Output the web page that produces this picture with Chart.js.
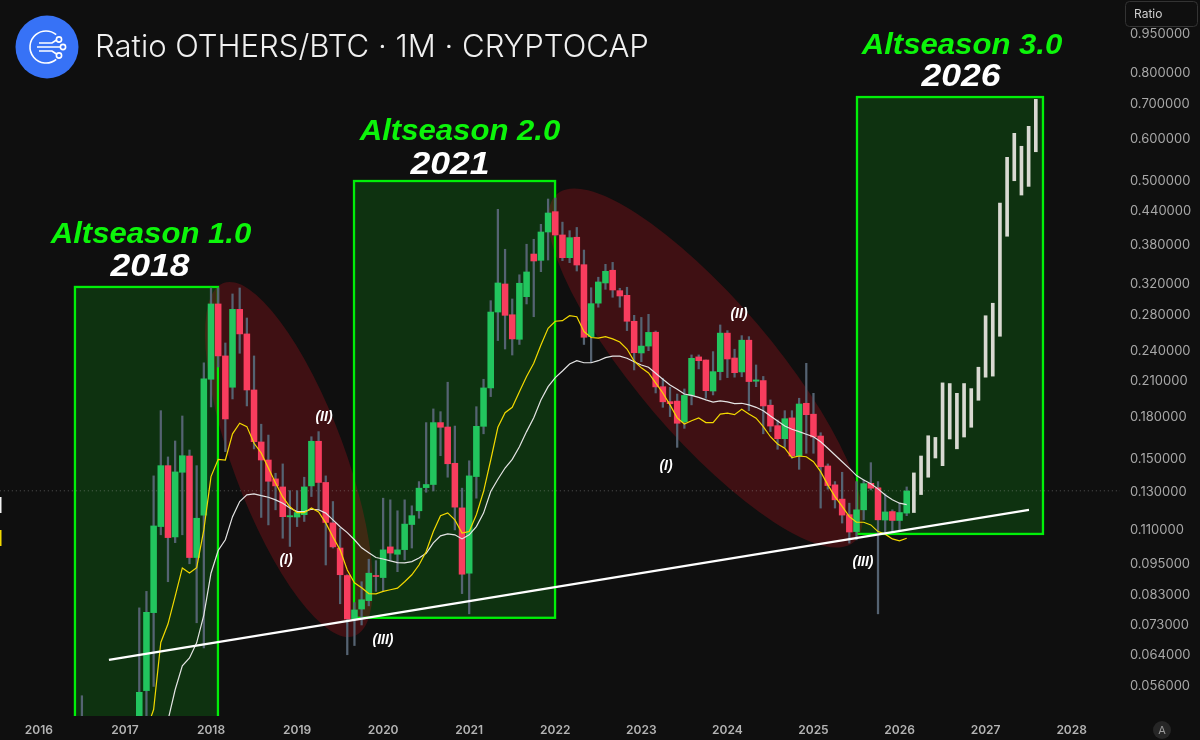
<!DOCTYPE html>
<html>
<head>
<meta charset="utf-8">
<title>Ratio OTHERS/BTC</title>
<script src="https://cdn.jsdelivr.net/npm/chart.js@4"></script>
<style>
  html, body { margin: 0; background: #0f0f0f; }
  canvas { display: block; }
</style>
</head>
<body>
<canvas id="chart" width="1200" height="740"></canvas>
<script>
// months counted from Jan 2016, first candle that matters is Jul 2016
const firstCandle = 6;
const opens = [
  .0400,.0420,.0410,.0430,.0440,.0430,.0440,.0450,
  .0455,.0546,.0766,.1113,.1450,.1064,.1409,.1512,.0973,.1170,
  .2110,.2926,.2335,.2038,.2858,.2569,.2014,.1607,.1486,.1369,.1322,.1161,
  .1160,.1172,.1328,.1612,.1348,.1131,.1014,.0900,.0745,.0778,.0807,.0900,
  .0892,.1019,.0987,.1007,.1123,.1192,.1318,.1336,.1748,.1715,.1465,.1207,
  .0909,.1383,.1720,.2032,.2825,.3191,.2792,.2510,.3020,.3634,.3536,.3999,
  .4368,.3948,.3577,.3909,.3470,.2539,.2936,.3205,.3387,.3100,.3038,.2714,
  .2365,.2437,.2588,.2043,.1915,.1919,.1753,.1967,.2325,.2294,.2005,.2181,
  .2578,.2314,.2178,.2500,.2092,.2098,.1885,.1725,.1630,.1784,.1512,.1901,
  .1813,.1649,.1448,.1334,.1254,.1172,.1089,.1197,.1343,.1317,.1145,.1188,
  .1143,.1180
];
const highs = [
  .0534,.0470,.0460,.0470,.0480,.0470,.0480,.0480,
  .0782,.0840,.1387,.1841,.1506,.1614,.1799,.1552,.1450,.2267,
  .3136,.3136,.2470,.3056,.3136,.2753,.2335,.1736,.1656,.1403,.1461,.1301,
  .1301,.1379,.1644,.1681,.1387,.1241,.1105,.0903,.0800,.0876,.0966,.0960,
  .1259,.1250,.1192,.1250,.1218,.1353,.1748,.1855,.1833,.2083,.1722,.1315,
  .1481,.1873,.2110,.2968,.4413,.3710,.2990,.3321,.3792,.3875,.4134,.4615,
  .4635,.4174,.4022,.4079,.3698,.3140,.3286,.3475,.3505,.3132,.3146,.2785,
  .2760,.2797,.2602,.2119,.2038,.1979,.2023,.2345,.2345,.2294,.2379,.2671,
  .2606,.2404,.2550,.2539,.2245,.2136,.1929,.1768,.1841,.1841,.1943,.2261,
  .1985,.1673,.1461,.1353,.1409,.1232,.1353,.1363,.1469,.1353,.1283,.1197,
  .1232,.1322
];
const lows = [
  .0380,.0400,.0395,.0410,.0420,.0415,.0425,.0430,
  .0430,.0470,.0556,.1074,.0876,.1038,.1074,.0947,.0733,.0657,
  .1871,.2226,.1541,.1937,.2362,.1879,.1559,.1158,.1121,.1197,.1058,.1021,
  .1113,.1138,.1268,.1197,.0942,.1014,.0796,.0638,.0664,.0726,.0789,.0840,
  .0840,.0960,.0915,.0963,.1014,.1154,.1292,.1299,.1514,.1379,.1097,.0832,
  .0762,.1259,.1665,.1957,.2496,.2406,.2344,.2454,.2926,.2768,.3366,.3541,
  .3931,.3531,.3500,.3376,.2454,.2271,.2885,.3118,.3012,.2885,.2606,.2197,
  .2277,.2389,.1988,.1868,.1794,.1570,.1705,.1888,.2207,.1943,.1971,.2104,
  .2125,.2129,.2133,.1841,.2043,.1665,.1681,.1557,.1570,.1497,.1427,.1530,
  .1530,.1206,.1309,.1206,.1130,.1036,.1051,.1146,.1305,.0762,.1082,.1082,
  .1089,.1167
];
const closes = [
  .0420,.0410,.0430,.0440,.0430,.0440,.0450,.0455,
  .0542,.0767,.1116,.1450,.1061,.1411,.1514,.0973,.1154,.2113,
  .2926,.2335,.1776,.2858,.2569,.2014,.1609,.1486,.1355,.1328,.1162,.1167,
  .1183,.1322,.1612,.1348,.1133,.1019,.0903,.0745,.0775,.0810,.0909,.0896,
  .1006,.0992,.1006,.1125,.1167,.1315,.1336,.1748,.1713,.1462,.1211,.0905,
  .1387,.1720,.2032,.2825,.3205,.2785,.2514,.3201,.3362,.3526,.3999,.4343,
  .3948,.3577,.3902,.3465,.2532,.2930,.3219,.3372,.3109,.3029,.2714,.2368,
  .2437,.2586,.2041,.1913,.1898,.1743,.1967,.2311,.2287,.2008,.2181,.2578,
  .2304,.2171,.2500,.2089,.2104,.1879,.1722,.1630,.1778,.1512,.1895,.1809,
  .1642,.1443,.1330,.1250,.1170,.1087,.1197,.1341,.1315,.1146,.1186,.1143,
  .1183,.1299
];

// yellow average, starts Apr 2017
const yellowStart = 15;
const yellowLine = [
  .0460,.0503,.0673,.0729,.0822,.0930,.0910,.0931,.1097,
  .1383,.1490,.1486,.1665,.1743,.1718,.1598,.1532,.1435,.1345,.1266,.1213,
  .1182,.1182,.1207,.1186,.1131,.1064,.1006,.0922,.0872,.0853,.0832,.0831,
  .0840,.0846,.0852,.0876,.0903,.0942,.0999,.1089,.1167,.1181,.1146,.1082,
  .1089,.1172,.1296,.1486,.1713,.1825,.1868,.1999,.2136,.2261,.2449,.2632,
  .2714,.2721,.2780,.2768,.2596,.2529,.2522,.2539,.2514,.2481,.2406,.2284,
  .2217,.2169,.2077,.1988,.1888,.1784,.1737,.1762,.1784,.1748,.1748,.1814,
  .1822,.1809,.1852,.1814,.1782,.1718,.1644,.1593,.1564,.1501,.1512,.1507,
  .1475,.1413,.1334,.1268,.1215,.1162,.1134,.1134,.1121,.1089,.1077,.1055,
  .1046,.1058
];

// white average, starts Jul 2017
const whiteStart = 18;
const whiteLine = [
  .0480,.0548,.0608,.0629,.0672,.0758,
  .0909,.1003,.1051,.1162,.1241,.1277,.1283,.1273,.1264,.1250,.1232,.1206,
  .1188,.1188,.1200,.1197,.1180,.1146,.1112,.1084,.1051,.1015,.0993,.0973,
  .0967,.0959,.0952,.0951,.0956,.0971,.0991,.1037,.1069,.1078,.1074,.1055,
  .1074,.1113,.1180,.1296,.1367,.1435,.1490,.1574,.1681,.1786,.1929,.2043,
  .2125,.2187,.2255,.2287,.2267,.2267,.2287,.2317,.2332,.2332,.2311,.2277,
  .2245,.2223,.2165,.2110,.2059,.2021,.1979,.1967,.1950,.1929,.1911,.1921,
  .1913,.1898,.1901,.1888,.1868,.1841,.1799,.1761,.1722,.1698,.1681,.1662,
  .1644,.1609,.1564,.1519,.1475,.1433,.1389,.1363,.1340,.1311,.1277,.1250,
  .1232,.1224
];

// projected white bars after the last real candle
const projectedStart = 122;
const projectedTop = [.1405,.1512,.1651,.1639,.2077,.2071,.1985,.2071,.2026,.2223,.2780,.2935,.4534,.5530,.6137,.5802,.6327,.7113];
const projectedBottom = [.1183,.1279,.1379,.1499,.1450,.1628,.1560,.1642,.1713,.1926,.2129,.2139,.2543,.3926,.4996,.4695,.4875,.5666];

const trendMonths = [9.77, 138.05];
const trendValues = [.0624, .1197];
const lastPrice = .13;

const priceTicks = [.056,.064,.073,.083,.095,.11,.13,.15,.18,.21,.24,.28,.32,.38,.44,.5,.6,.7,.8,.95];
const yearTicks = [2016,2017,2018,2019,2020,2021,2022,2023,2024,2025,2026,2027,2028];

// [month from, month to, low value, high value]
const greenBoxes = [
  [5.03, 24.97, .0470, .315],
  [43.94, 71.97, .0749, .499],
  [114.07, 140.0, .1078, .7185]
];
// tips of the red ellipses in data values, halfWidth in px
const redEllipses = [
  { a: [25.74, .3205], b: [44.0, .0692], halfWidth: 56 },
  { a: [72.24, .4716], b: [113.65, .1041], halfWidth: 68 }
];

const FONT = 'Inter, "Noto Sans", sans-serif';
const NOTE_FONT = '"Liberation Sans", Arial, sans-serif';

const seasonLabels = [['Altseason 1.0', 151, 235], ['Altseason 2.0', 460, 132], ['Altseason 3.0', 962, 46]];
const yearLabels = [['2018', 150, 268], ['2021', 450, 166], ['2026', 961, 78]];
const waveLabels = [
  ['(I)', 286, 560], ['(II)', 324, 417], ['(III)', 383, 640],
  ['(I)', 666, 466], ['(II)', 739, 314], ['(III)', 863, 562]
];

// centred text, stretched sideways like the original overlay font
function wideText(ctx, text, x, y, stretch) {
  ctx.save();
  ctx.translate(x, y);
  ctx.scale(stretch, 1);
  ctx.fillText(text, 0, 0);
  ctx.restore();
}

const drawings = {
  id: 'drawings',
  // green boxes and red ellipses sit under the candles
  beforeDatasetsDraw(chart) {
    const { ctx, chartArea: area, scales: { x, y } } = chart;
    ctx.save();
    ctx.beginPath();
    ctx.rect(area.left, area.top, area.width, area.height);
    ctx.clip();
    greenBoxes.forEach(b => {
      ctx.fillStyle = '#0e3210';
      ctx.fillRect(x.getPixelForValue(b[0]), y.getPixelForValue(b[3]),
        x.getPixelForValue(b[1]) - x.getPixelForValue(b[0]), y.getPixelForValue(b[2]) - y.getPixelForValue(b[3]));
    });
    redEllipses.forEach(e => {
      const ax = x.getPixelForValue(e.a[0]), ay = y.getPixelForValue(e.a[1]);
      const bx = x.getPixelForValue(e.b[0]), by = y.getPixelForValue(e.b[1]);
      ctx.beginPath();
      ctx.ellipse((ax + bx) / 2, (ay + by) / 2, Math.hypot(bx - ax, by - ay) / 2, e.halfWidth, Math.atan2(by - ay, bx - ax), 0, Math.PI * 2);
      ctx.fillStyle = 'rgba(200,20,30,0.26)';
      ctx.fill();
    });
    greenBoxes.forEach(b => {
      ctx.strokeStyle = '#00f008';
      ctx.lineWidth = 2.3;
      ctx.strokeRect(x.getPixelForValue(b[0]), y.getPixelForValue(b[3]),
        x.getPixelForValue(b[1]) - x.getPixelForValue(b[0]), y.getPixelForValue(b[2]) - y.getPixelForValue(b[3]));
    });
    ctx.restore();
  },
  afterDraw(chart) {
    const { ctx } = chart;
    ctx.save();
    ctx.textBaseline = 'middle';

    // logo
    ctx.fillStyle = '#3772f6';
    ctx.beginPath();
    ctx.arc(47, 47, 31.5, 0, Math.PI * 2);
    ctx.fill();
    ctx.strokeStyle = '#ffffff';
    ctx.lineWidth = 1.6;
    ctx.beginPath();
    ctx.arc(46, 47, 16, 0.28 * Math.PI, 1.72 * Math.PI);
    ctx.stroke();
    ctx.beginPath();
    ctx.moveTo(39, 43); ctx.lineTo(52, 43); ctx.lineTo(56.5, 40);
    ctx.moveTo(37, 47); ctx.lineTo(60, 47);
    ctx.moveTo(39, 51); ctx.lineTo(52, 51); ctx.lineTo(56.5, 54);
    ctx.stroke();
    [[59, 39.5], [63, 47], [59, 55.5]].forEach(p => {
      ctx.beginPath();
      ctx.arc(p[0], p[1], 2.6, 0, Math.PI * 2);
      ctx.stroke();
    });

    // title
    ctx.fillStyle = '#f0f0f0';
    ctx.textAlign = 'left';
    ctx.font = '300 31.1px ' + FONT;
    ctx.fillText('Ratio OTHERS/BTC · 1M · CRYPTOCAP', 95, 48);

    ctx.textAlign = 'center';
    ctx.font = 'italic 700 30px ' + NOTE_FONT;
    ctx.fillStyle = '#0cf50a';
    seasonLabels.forEach(l => wideText(ctx, l[0], l[1], l[2], 1.037));
    ctx.fillStyle = '#ffffff';
    ctx.font = 'italic 700 30.5px ' + NOTE_FONT;
    yearLabels.forEach(l => wideText(ctx, l[0], l[1], l[2], 1.165));
    ctx.font = 'italic 700 14px ' + NOTE_FONT;
    waveLabels.forEach(l => ctx.fillText(l[0], l[1], l[2]));

    // Ratio box, top right
    ctx.fillStyle = '#0f0f0f';
    ctx.strokeStyle = '#333333';
    ctx.lineWidth = 1;
    ctx.beginPath();
    ctx.roundRect(1125.5, 1.5, 72, 25, 4);
    ctx.fill();
    ctx.stroke();
    ctx.fillStyle = '#cfcfcf';
    ctx.textAlign = 'left';
    ctx.font = '12px ' + FONT;
    ctx.fillText('Ratio', 1134, 14);

    // auto scale button
    ctx.fillStyle = '#262626';
    ctx.beginPath();
    ctx.arc(1162, 730, 9, 0, Math.PI * 2);
    ctx.fill();
    ctx.fillStyle = '#9a9a9a';
    ctx.textAlign = 'center';
    ctx.font = '11px ' + FONT;
    ctx.fillText('A', 1162, 730.5);

    // cut-off price markers on the left edge
    ctx.fillStyle = '#f2f2f2';
    ctx.fillRect(0, 497, 1.5, 16);
    ctx.fillStyle = '#f2d900';
    ctx.fillRect(0, 530, 1.5, 16);
    ctx.restore();
  }
};

const months = opens.map((_, i) => firstCandle + i);
const GREEN = '#22c55e', RED = '#f93d5e';

new Chart(document.getElementById('chart'), {
  type: 'bar',
  data: {
    datasets: [
      {
        // dotted last price line
        type: 'line',
        data: [{ x: -6, y: lastPrice }, { x: 151, y: lastPrice }],
        borderColor: 'rgba(170,170,170,0.45)',
        borderWidth: 1,
        borderDash: [1, 3],
        pointRadius: 0,
        order: 7
      },
      {
        label: 'wicks',
        data: months.map((m, i) => ({ x: m, y: [lows[i], highs[i]] })),
        backgroundColor: '#556372',
        barThickness: 1.6,
        grouped: false,
        order: 6
      },
      {
        label: 'bodies',
        data: months.map((m, i) => ({ x: m, y: [opens[i], closes[i]] })),
        backgroundColor: months.map((m, i) => closes[i] >= opens[i] ? GREEN : RED),
        barThickness: 5.9,
        minBarLength: 1,
        grouped: false,
        order: 5
      },
      {
        label: 'projection',
        data: projectedTop.map((t, i) => ({ x: projectedStart + i, y: [projectedBottom[i], t] })),
        backgroundColor: '#d9d9d2',
        barThickness: 3,
        grouped: false,
        order: 4
      },
      {
        type: 'line',
        data: whiteLine.map((v, i) => ({ x: whiteStart + i, y: v })),
        borderColor: '#e4e4e4',
        borderWidth: 1.2,
        pointRadius: 0,
        order: 3
      },
      {
        type: 'line',
        data: yellowLine.map((v, i) => ({ x: yellowStart + i, y: v })),
        borderColor: '#f2d900',
        borderWidth: 1.2,
        pointRadius: 0,
        order: 2
      },
      {
        type: 'line',
        data: trendMonths.map((m, i) => ({ x: m, y: trendValues[i] })),
        borderColor: '#ffffff',
        borderWidth: 2.2,
        pointRadius: 0,
        order: 1
      }
    ]
  },
  options: {
    responsive: false,
    animation: false,
    layout: { padding: 0 },
    plugins: { legend: { display: false }, tooltip: { enabled: false } },
    scales: {
      x: {
        type: 'linear',
        offset: false,
        min: -5.42,
        max: 150.74,
        grid: { display: false, drawTicks: false },
        border: { display: false },
        afterBuildTicks: scale => { scale.ticks = yearTicks.map(y => ({ value: (y - 2016) * 12 })); },
        afterFit: scale => { scale.height = 24; scale.paddingLeft = 0; scale.paddingRight = 0; },
        ticks: {
          color: '#b4b4b4',
          maxRotation: 0,
          autoSkip: false,
          padding: 7,
          font: { family: FONT, size: 12, weight: '600' },
          callback: v => String(2016 + v / 12)
        }
      },
      y: {
        type: 'logarithmic',
        position: 'right',
        min: .0489,
        max: 1.095,
        grid: { display: false, drawTicks: false },
        border: { display: false },
        afterBuildTicks: scale => { scale.ticks = priceTicks.map(v => ({ value: v })); },
        afterFit: scale => { scale.width = 80; scale.paddingTop = 0; scale.paddingBottom = 0; },
        ticks: {
          color: '#a8a8a8',
          autoSkip: false,
          padding: 10,
          labelOffset: 1,
          font: { family: FONT, size: 13 },
          callback: v => v.toFixed(6)
        }
      }
    }
  },
  plugins: [drawings]
});
</script>
</body>
</html>
